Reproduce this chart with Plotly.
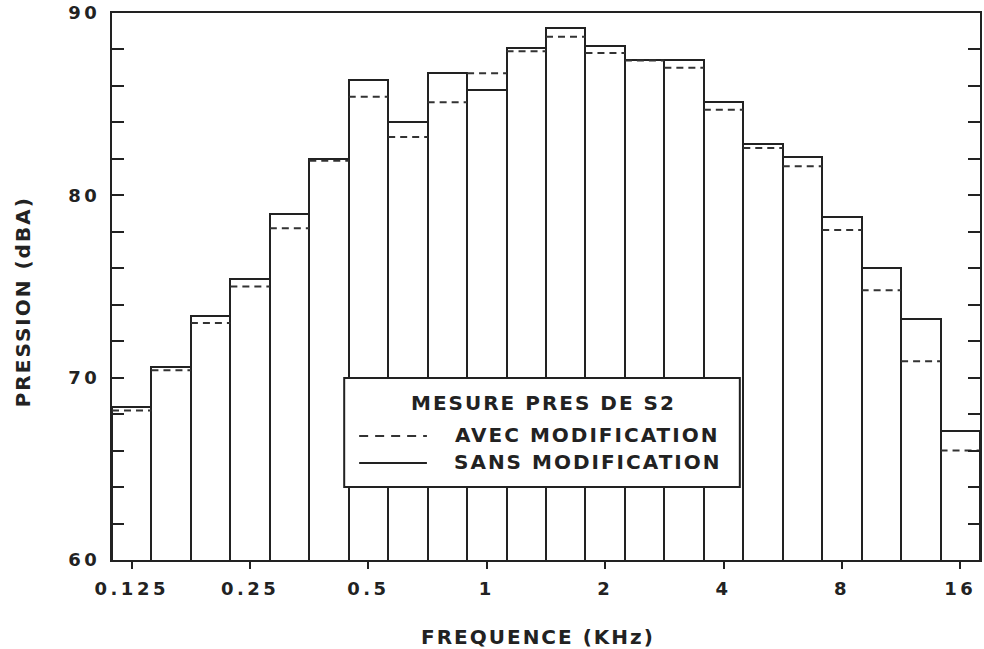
import plotly.graph_objects as go

# Third-octave bands (kHz)
bands = ["0.125", "0.16", "0.2", "0.25", "0.315", "0.4", "0.5", "0.63", "0.8", "1",
         "1.25", "1.6", "2", "2.5", "3.15", "4", "5", "6.3", "8", "10", "12.5", "16"]
# Sans modification (solid bars), dBA
sans = [68.4, 70.6, 73.4, 75.4, 79.0, 82.0, 86.3, 84.0, 86.7, 85.8,
        88.1, 89.2, 88.2, 87.4, 87.4, 85.1, 82.8, 82.1, 78.8, 76.0, 73.2, 67.1]
# Avec modification (dashed levels), dBA
avec = [68.2, 70.4, 73.0, 75.0, 78.2, 81.9, 85.4, 83.2, 85.1, 86.7,
        87.9, 88.7, 87.8, 87.4, 87.0, 84.7, 82.6, 81.6, 78.1, 74.8, 70.9, 66.0]
tick_labels = ["0.125", "0.25", "0.5", "1", "2", "4", "8", "16"]
tick_text = ["0.125", "0.25", "0.5", "1", "2", "4", "8", "16"]
y_ticks = list(range(60, 91, 2))
y_ticktext = [str(v) if v % 10 == 0 else "" for v in y_ticks]

FONT = "DejaVu Sans"
INK = "#222222"
idx = list(range(len(bands)))

fig = go.Figure()
fig.add_trace(go.Bar(
    x=idx, y=sans, width=1.0,
    marker=dict(color="white", line=dict(color=INK, width=2)),
    showlegend=False, hoverinfo="skip",
))

dx, dy = [], []
for i, v in zip(idx, avec):
    dx += [i - 0.5, i + 0.5, None]
    dy += [v, v, None]
fig.add_trace(go.Scatter(
    x=dx, y=dy, mode="lines",
    line=dict(color="#333333", width=2, dash="7px,5px"),
    showlegend=False, hoverinfo="skip",
))

tickpos = [bands.index(t) for t in tick_labels]

fig.update_layout(
    width=984, height=649,
    margin=dict(l=112, r=2, t=13, b=89),
    paper_bgcolor="white", plot_bgcolor="white",
    bargap=0,
    font=dict(family=FONT, size=18, color=INK),
    xaxis=dict(
        range=[-0.5, len(bands) - 0.5],
        tickvals=tickpos, ticktext=tick_text,
        ticks="outside", ticklen=7, tickwidth=2, tickcolor=INK,
        ticklabelstandoff=4,
        showline=True, linecolor=INK, linewidth=2, mirror=True,
        showgrid=False, zeroline=False,
        tickfont=dict(family=FONT, size=18, weight="bold", color=INK),
    ),
    yaxis=dict(
        range=[60, 90],
        tickvals=y_ticks, ticktext=y_ticktext,
        ticks="inside", ticklen=12, tickwidth=2, tickcolor=INK,
        ticklabelstandoff=6,
        showline=True, linecolor=INK, linewidth=2, mirror="ticks",
        showgrid=False, zeroline=False,
        tickfont=dict(family=FONT, size=18, weight="bold", color=INK),
    ),
)

def px_x(px):
    return (px - 112) / 871.0

def px_y(py):
    return (560 - py) / 547.0

# Legend box
fig.add_shape(type="rect", xref="paper", yref="paper",
              x0=px_x(345), x1=px_x(742), y0=px_y(487), y1=px_y(378),
              fillcolor="white", line=dict(color=INK, width=2), layer="above")
fig.add_shape(type="line", xref="paper", yref="paper",
              x0=px_x(360), x1=px_x(428), y0=px_y(436), y1=px_y(436),
              line=dict(color="#333333", width=2, dash="9px,7px"), layer="above")
fig.add_shape(type="line", xref="paper", yref="paper",
              x0=px_x(360), x1=px_x(428), y0=px_y(463), y1=px_y(463),
              line=dict(color=INK, width=2), layer="above")

ann_font = dict(family=FONT, size=20, weight="bold", color=INK)
fig.add_annotation(text="MESURE PRES DE S2", xref="paper", yref="paper",
                   x=px_x(545), y=px_y(403), xanchor="center", yanchor="middle",
                   showarrow=False, font=ann_font)
fig.add_annotation(text="AVEC MODIFICATION", xref="paper", yref="paper",
                   x=px_x(589), y=px_y(435), xanchor="center", yanchor="middle",
                   showarrow=False, font=ann_font)
fig.add_annotation(text="SANS MODIFICATION", xref="paper", yref="paper",
                   x=px_x(589), y=px_y(462), xanchor="center", yanchor="middle",
                   showarrow=False, font=ann_font)

# Axis titles
fig.add_annotation(text="FREQUENCE (KHz)", xref="paper", yref="paper",
                   x=px_x(539), y=px_y(637), xanchor="center", yanchor="middle",
                   showarrow=False, font=ann_font)
fig.add_annotation(text="PRESSION (dBA)", xref="paper", yref="paper",
                   x=px_x(23), y=px_y(302), xanchor="center", yanchor="middle",
                   textangle=-90, showarrow=False, font=ann_font)

post = """
var gd = document.getElementById('{plot_id}');
function sp(){
  document.querySelectorAll('.xtick text, .ytick text').forEach(function(e){ e.style.letterSpacing = '3.5px'; });
  document.querySelectorAll('.annotation-text').forEach(function(e){ e.style.letterSpacing = '2px'; });
}
sp();
if (gd && gd.on) { gd.on('plotly_afterplot', sp); }
"""

fig.write_html("out.html", post_script=post)
